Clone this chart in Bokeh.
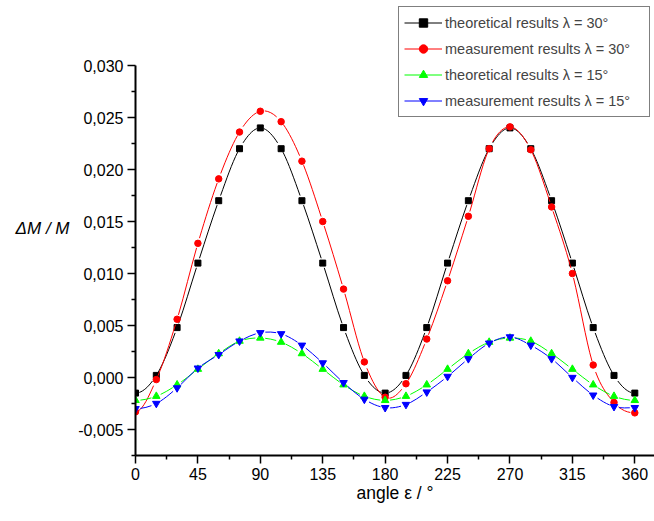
import numpy as np
from bokeh.plotting import figure
from bokeh.models import (Range1d, FixedTicker, CustomJSTickFormatter, Legend,
                          LegendItem, LinearAxis)
from bokeh.embed import file_html
from bokeh.resources import INLINE

# ---------------- data ----------------
angles = list(range(0, 361, 15))
theo30 = [-0.0015, 0.0002, 0.0048, 0.0110, 0.0170, 0.0220, 0.0240, 0.0220, 0.0170, 0.0110, 0.0048, 0.0002, -0.0015,
          0.0002, 0.0048, 0.0110, 0.0170, 0.0220, 0.0240, 0.0220, 0.0170, 0.0110, 0.0048, 0.0002, -0.0015]
meas30 = [-0.0033, -0.0002, 0.0056, 0.0129, 0.0191, 0.0236, 0.0256, 0.0246, 0.0208, 0.0150, 0.0085, 0.0015, -0.0019,
          -0.0006, 0.0037, 0.0093, 0.0155, 0.0220, 0.0241, 0.0219, 0.0164, 0.0100, 0.0012, -0.0024, -0.0034]
theo15 = [-0.0022, -0.0018, -0.0007, 0.0008, 0.0023, 0.0035, 0.0038, 0.0034, 0.0023, 0.0008, -0.0007, -0.0018, -0.0022,
          -0.0018, -0.0007, 0.0008, 0.0023, 0.0034, 0.0038, 0.0035, 0.0023, 0.0008, -0.0007, -0.0018, -0.0022]
meas15 = [-0.0030, -0.0025, -0.0010, 0.0009, 0.0022, 0.0035, 0.0043, 0.0042, 0.0031, 0.0014, -0.0005, -0.0021, -0.0029,
          -0.0026, -0.0014, 0.0001, 0.0018, 0.0033, 0.0039, 0.0031, 0.0018, 0.0000, -0.0017, -0.0028, -0.0029]

series_labels = ["theoretical results \u03bb = 30\u00b0", "measurement results \u03bb = 30\u00b0",
                 "theoretical results \u03bb = 15\u00b0", "measurement results \u03bb = 15\u00b0"]
x_ticks = [0, 45, 90, 135, 180, 225, 270, 315, 360]
x_minor = [22.5, 67.5, 112.5, 157.5, 202.5, 247.5, 292.5, 337.5]
y_ticks = [-0.005, 0.0, 0.005, 0.010, 0.015, 0.020, 0.025, 0.030]
y_minor = [-0.0075, -0.0025, 0.0025, 0.0075, 0.0125, 0.0175, 0.0225, 0.0275]
x_title = "angle \u03b5 / \u00b0"
y_title = "\u0394M / M"

# ---------------- layout ----------------
W, H = 654, 521
BL, BR, BT, BB = 135, 0, 0, 66
FW, FH = W - BL - BR, H - BT - BB
X0, X1 = 0.0, 374.2
Y0 = -0.0075
YTOP = 0.030
PX_PER_Y = 52 / 0.005
Y1 = YTOP + 65 / PX_PER_Y
KX = FW / (X1 - X0)
KY = FH / (Y1 - Y0)

p = figure(width=W, height=H, output_backend="svg", toolbar_location=None,
           x_range=Range1d(X0, X1), y_range=Range1d(Y0, Y1),
           min_border_left=BL, min_border_right=BR, min_border_top=BT, min_border_bottom=BB)
p.outline_line_color = None
p.xgrid.visible = False
p.ygrid.visible = False
p.background_fill_color = "white"
p.border_fill_color = "white"

for ax in (p.xaxis[0], p.yaxis[0]):
    ax.axis_line_width = 2
    ax.axis_line_color = "black"
    ax.major_tick_line_width = 1.5
    ax.minor_tick_line_width = 1.5
    ax.major_tick_line_color = "black"
    ax.minor_tick_line_color = "black"
    ax.major_tick_out = 8
    ax.major_tick_in = 0
    ax.minor_tick_out = 4
    ax.minor_tick_in = 0
    ax.major_label_text_font = "Liberation Sans"
    ax.major_label_text_font_size = "16px"
    ax.major_label_text_color = "black"
    ax.major_label_standoff = 4

p.xaxis[0].ticker = FixedTicker(ticks=x_ticks, minor_ticks=x_minor)
p.xaxis[0].axis_label = x_title
p.xaxis[0].axis_label_text_font = "Liberation Sans"
p.xaxis[0].axis_label_text_font_size = "17.5px"
p.xaxis[0].axis_label_text_font_style = "normal"
p.xaxis[0].axis_label_text_color = "black"
p.xaxis[0].axis_label_standoff = 0

p.yaxis[0].ticker = FixedTicker(ticks=y_ticks, minor_ticks=y_minor)
p.yaxis[0].bounds = (Y0, YTOP)
p.yaxis[0].formatter = CustomJSTickFormatter(
    code="const v = Math.abs(tick) < 1e-12 ? 0 : tick; return v.toFixed(3).replace('.', ',');")

# extra (label-only) axis to hold the horizontal y title at its place
ytitle_axis = LinearAxis(ticker=FixedTicker(ticks=[]), bounds=(-0.0025, YTOP),
                         axis_line_color=None, major_tick_line_color=None, minor_tick_line_color=None,
                         major_tick_out=0, minor_tick_out=0, major_tick_in=0, minor_tick_in=0,
                         axis_label=y_title, axis_label_orientation="horizontal",
                         axis_label_text_font="Liberation Sans", axis_label_text_font_size="17px",
                         axis_label_text_font_style="italic", axis_label_text_color="black",
                         axis_label_standoff=6)
p.add_layout(ytitle_axis, "left")


# ---------------- smooth curves with gaps at symbols ----------------
def split(P, t):
    def lerp(a, b):
        return (a[0] + (b[0] - a[0]) * t, a[1] + (b[1] - a[1]) * t)
    p01 = lerp(P[0], P[1]); p12 = lerp(P[1], P[2]); p23 = lerp(P[2], P[3])
    p012 = lerp(p01, p12); p123 = lerp(p12, p23)
    m = lerp(p012, p123)
    return [P[0], p01, p012, m], [m, p123, p23, P[3]]


def sub(P, t0, t1):
    left, _ = split(P, t1)
    _, right = split(left, t0 / t1)
    return right


def spline_segments(xs, ys, gap=5.0):
    n = len(xs)
    ex = [2 * xs[0] - xs[1]] + list(xs) + [2 * xs[-1] - xs[-2]]
    ey = [ys[1]] + list(ys) + [ys[-2]]
    out = {k: [] for k in ("x0", "y0", "x1", "y1", "cx0", "cy0", "cx1", "cy1")}
    for i in range(n - 1):
        pm = (ex[i], ey[i]); p0 = (ex[i + 1], ey[i + 1])
        p1 = (ex[i + 2], ey[i + 2]); pp = (ex[i + 3], ey[i + 3])
        c0 = (p0[0] + (p1[0] - pm[0]) / 6, p0[1] + (p1[1] - pm[1]) / 6)
        c1 = (p1[0] - (pp[0] - p0[0]) / 6, p1[1] - (pp[1] - p0[1]) / 6)
        L = np.hypot((p1[0] - p0[0]) * KX, (p1[1] - p0[1]) * KY)
        t0 = min(0.35, gap / L)
        seg = sub([p0, c0, c1, p1], t0, 1 - t0)
        out["x0"].append(seg[0][0]); out["y0"].append(seg[0][1])
        out["cx0"].append(seg[1][0]); out["cy0"].append(seg[1][1])
        out["cx1"].append(seg[2][0]); out["cy1"].append(seg[2][1])
        out["x1"].append(seg[3][0]); out["y1"].append(seg[3][1])
    return out


styles = [
    (theo30, "#000000", "square", 6),
    (meas30, "#ff0000", "circle", 6.5),
    (theo15, "#00ff00", "triangle", 7.5),
    (meas15, "#0000ff", "inverted_triangle", 7.5),
]

items = []
for (vals, col, mk, sz), lab in zip(styles, series_labels):
    seg = spline_segments(angles, vals)
    br = p.bezier(line_color=col, line_width=1, **seg)
    sr = p.scatter(angles, vals, marker=mk, size=sz, fill_color=col, line_color=col)
    items.append(LegendItem(label=lab, renderers=[br, sr]))

legend = Legend(items=items, location=(263, 338),
                padding=5, spacing=5, glyph_width=38, glyph_height=21, label_height=21,
                label_width=199, label_standoff=3, margin=0,
                label_text_font="Liberation Sans", label_text_font_size="14.5px",
                border_line_color="black", border_line_width=1.5,
                background_fill_color="white", background_fill_alpha=1.0)
p.add_layout(legend)

open("out.html", "w").write(file_html(p, INLINE))
